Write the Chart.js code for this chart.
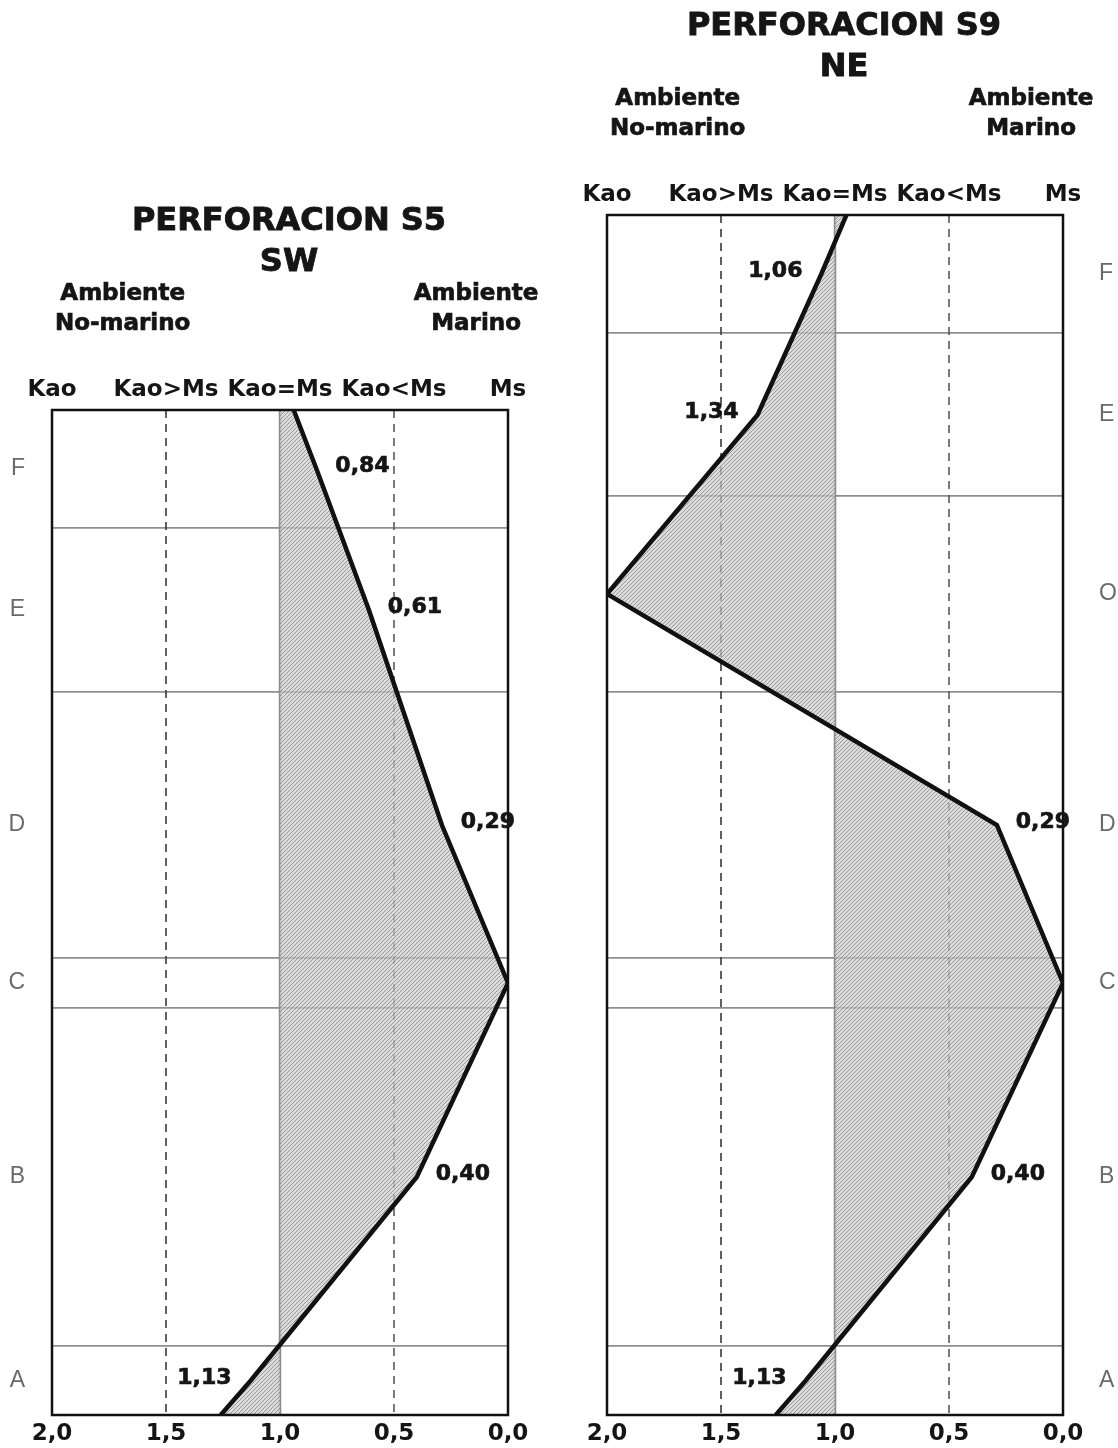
<!DOCTYPE html>
<html>
<head>
<meta charset="utf-8">
<script src="https://cdn.jsdelivr.net/npm/chart.js@4.4.1/dist/chart.umd.min.js"></script>
<style>
  html, body { margin: 0; padding: 0; background: #fff; }
  #wrap { position: relative; width: 1118px; height: 1448px; }
  canvas { position: absolute; top: 0; }
  #s5 { left: 0; }
  #s9 { left: 559px; }
</style>
</head>
<body>
<div id="wrap">
  <canvas id="s5" width="559" height="1448"></canvas>
  <canvas id="s9" width="559" height="1448"></canvas>
</div>
<script>
// eje x (invertido) y etiquetas superiores
const xTicks = [2, 1.5, 1, 0.5, 0];
const topLabels = ["Kao", "Kao>Ms", "Kao=Ms", "Kao<Ms", "Ms"];

// Perforacion S5 (SW) - profundidad relativa, limites de capas
const s5Layers = ["F", "E", "D", "C", "B", "A"];
const s5Bounds = [19.5, 31.3, 47.7, 74.3, 79.3, 113.1, 120];
const s5Depths = [25.4, 39.5, 61, 76.8, 96.2, 116.6];
const s5Values = [0.84, 0.61, 0.29, 0.0, 0.4, 1.13];
const s5Edges = [0.94, 1.26]; // valor en el borde superior e inferior
const s5Side = [1, 1, 1, 0, 1, -1];

// Perforacion S9 (NE)
const s9Layers = ["F", "E", "O", "D", "C", "B", "A"];
const s9Bounds = [0, 11.8, 28.1, 47.7, 74.3, 79.3, 113.1, 120];
const s9Depths = [5.9, 20, 37.9, 61, 76.8, 96.2, 116.6];
const s9Values = [1.06, 1.34, 2.0, 0.29, 0.0, 0.4, 1.13];
const s9Edges = [0.95, 1.26];
const s9Side = [-1, -1, 0, 1, 0, 1, -1];

const BOLD = "'DejaVu Sans', sans-serif";
const INK = "#151515";

function comma(v, d) {
  return v.toFixed(d).replace(".", ",");
}

function hatch(ctx) {
  const c = document.createElement("canvas");
  c.width = 4;
  c.height = 4;
  const g = c.getContext("2d");
  g.fillStyle = "rgba(205,205,205,0.7)";
  g.fillRect(0, 0, 4, 4);
  g.strokeStyle = "rgba(110,110,110,0.6)";
  g.lineWidth = 1;
  g.beginPath();
  g.moveTo(0, 4); g.lineTo(4, 0);
  g.moveTo(-1, 1); g.lineTo(1, -1);
  g.moveTo(3, 5); g.lineTo(5, 3);
  g.stroke();
  return ctx.createPattern(c, "repeat");
}

function refLine(x, y0, y1, color, width, dash) {
  return {
    data: [{ x: x, y: y0 }, { x: x, y: y1 }],
    borderColor: color,
    borderWidth: width,
    borderDash: dash,
    pointRadius: 0,
    fill: false,
    xAxisID: "x",
    yAxisID: "y",
  };
}

// texto grueso (relleno + trazo fino)
function heavyText(ctx, txt, x, y) {
  ctx.fillText(txt, x, y);
  ctx.strokeText(txt, x, y);
}

const headerPlugin = {
  id: "header",
  afterDraw(chart, args, o) {
    const { ctx, chartArea: a, scales } = chart;
    ctx.save();
    ctx.fillStyle = INK;
    ctx.strokeStyle = INK;
    ctx.lineWidth = 0.9;
    ctx.textAlign = "center";
    ctx.textBaseline = "middle";
    const cx = (a.left + a.right) / 2 + 9;
    ctx.font = "bold 32px " + BOLD;
    heavyText(ctx, o.title[0], cx, a.top - 188);
    heavyText(ctx, o.title[1], cx, a.top - 147);
    ctx.font = "bold 23px " + BOLD;
    ctx.lineWidth = 0.7;
    const xl = scales.x.getPixelForValue(1.69);
    const xr = scales.x.getPixelForValue(0.14);
    heavyText(ctx, "Ambiente", xl, a.top - 116);
    heavyText(ctx, "No-marino", xl, a.top - 86);
    heavyText(ctx, "Ambiente", xr, a.top - 116);
    heavyText(ctx, "Marino", xr, a.top - 86);
    ctx.restore();
  },
};

const framePlugin = {
  id: "frame",
  afterDatasetsDraw(chart) {
    const { ctx, chartArea: a } = chart;
    ctx.save();
    ctx.strokeStyle = "#111";
    ctx.lineWidth = 2.5;
    ctx.strokeRect(a.left, a.top, a.right - a.left, a.bottom - a.top);
    ctx.restore();
  },
};

const valueLabelPlugin = {
  id: "valueLabels",
  afterDatasetsDraw(chart, args, o) {
    const { ctx } = chart;
    const pts = chart.getDatasetMeta(0).data;
    ctx.save();
    ctx.fillStyle = INK;
    ctx.strokeStyle = INK;
    ctx.lineWidth = 0.7;
    ctx.font = "bold 22px " + BOLD;
    ctx.textAlign = "center";
    ctx.textBaseline = "middle";
    o.values.forEach((v, i) => {
      if (!o.sides[i]) return;
      const p = pts[i + 1];
      heavyText(ctx, comma(v, 2), p.x + o.sides[i] * 46, p.y - 3);
    });
    ctx.restore();
  },
};

function makeChart(id, cfg) {
  const canvas = document.getElementById(id);
  const ctx = canvas.getContext("2d");
  const yMin = cfg.bounds[0];
  const yMax = cfg.bounds[cfg.bounds.length - 1];

  const profile = [{ x: cfg.edges[0], y: yMin }];
  cfg.values.forEach((v, i) => profile.push({ x: v, y: cfg.depths[i] }));
  profile.push({ x: cfg.edges[1], y: yMax });

  return new Chart(ctx, {
    type: "line",
    data: {
      datasets: [
        {
          data: profile,
          borderColor: "#111",
          borderWidth: 4.5,
          borderJoinStyle: "miter",
          pointRadius: 0,
          tension: 0,
          fill: { value: 1 },
          backgroundColor: hatch(ctx),
          xAxisID: "x",
          yAxisID: "y",
        },
        refLine(1.5, yMin, yMax, "#3a3a3a", 1.6, [8, 6]),
        refLine(1.0, yMin, yMax, "#8c8c8c", 2.5, []),
        refLine(0.5, yMin, yMax, "#5a5a5a", 1.6, [8, 6]),
      ],
    },
    options: {
      responsive: false,
      animation: false,
      indexAxis: "y",
      layout: { padding: cfg.padding },
      plugins: {
        legend: { display: false },
        tooltip: { enabled: false },
        header: { title: cfg.title },
        valueLabels: { values: cfg.values, sides: cfg.sides },
      },
      scales: {
        x: {
          type: "linear",
          axis: "x",
          position: "bottom",
          min: 0,
          max: 2,
          reverse: true,
          afterBuildTicks: (s) => { s.ticks = xTicks.map((v) => ({ value: v })); },
          grid: { display: false, drawTicks: false },
          border: { display: false },
          ticks: {
            callback: (v) => comma(v, 1),
            font: { family: BOLD, size: 23, weight: "bold" },
            color: INK,
            padding: 5,
            autoSkip: false,
            maxRotation: 0,
          },
          afterFit: (s) => { s.height = 1448 - 1415; },
        },
        xt: {
          type: "linear",
          axis: "x",
          position: "top",
          min: 0,
          max: 2,
          reverse: true,
          afterBuildTicks: (s) => { s.ticks = xTicks.map((v) => ({ value: v })); },
          grid: { display: false, drawTicks: false },
          border: { display: false },
          ticks: {
            callback: (v, i) => topLabels[i],
            font: { family: BOLD, size: 23, weight: "bold" },
            color: INK,
            padding: 6,
            autoSkip: false,
            maxRotation: 0,
          },
          afterFit: (s) => { s.height = cfg.areaTop; },
        },
        y: {
          type: "linear",
          axis: "y",
          position: cfg.letterSide,
          min: yMin,
          max: yMax,
          reverse: true,
          afterBuildTicks: (s) => {
            s.ticks = cfg.bounds.slice(1, -1).map((v) => ({ value: v }));
          },
          grid: { color: "#8f8f8f", lineWidth: 1.8, drawTicks: false },
          border: { display: false },
          ticks: { display: false },
          afterFit: (s) => { s.width = 0; },
        },
        yl: {
          type: "linear",
          axis: "y",
          position: cfg.letterSide,
          min: yMin,
          max: yMax,
          reverse: true,
          afterBuildTicks: (s) => { s.ticks = cfg.depths.map((v) => ({ value: v })); },
          grid: { display: false, drawTicks: false },
          border: { display: false },
          ticks: {
            callback: (v, i) => cfg.layers[i],
            font: { family: "'Liberation Sans', sans-serif", size: 23 },
            color: "#6a6a6a",
            padding: cfg.letterPad,
            autoSkip: false,
          },
          afterFit: (s) => {
            s.width = cfg.letterWidth;
            s.paddingTop = 0;
            s.paddingBottom = 0;
          },
        },
      },
    },
    plugins: [headerPlugin, framePlugin, valueLabelPlugin],
  });
}

makeChart("s5", {
  title: ["PERFORACION S5", "SW"],
  layers: s5Layers,
  bounds: s5Bounds,
  depths: s5Depths,
  values: s5Values,
  edges: s5Edges,
  sides: s5Side,
  areaTop: 410,
  letterSide: "left",
  letterWidth: 52,
  letterPad: 27,
  padding: { left: 0, right: 51, top: 0, bottom: 0 },
});

makeChart("s9", {
  title: ["PERFORACION S9", "NE"],
  layers: s9Layers,
  bounds: s9Bounds,
  depths: s9Depths,
  values: s9Values,
  edges: s9Edges,
  sides: s9Side,
  areaTop: 215,
  letterSide: "right",
  letterWidth: 55,
  letterPad: 36,
  padding: { left: 48, right: 0, top: 0, bottom: 0 },
});
</script>
</body>
</html>
